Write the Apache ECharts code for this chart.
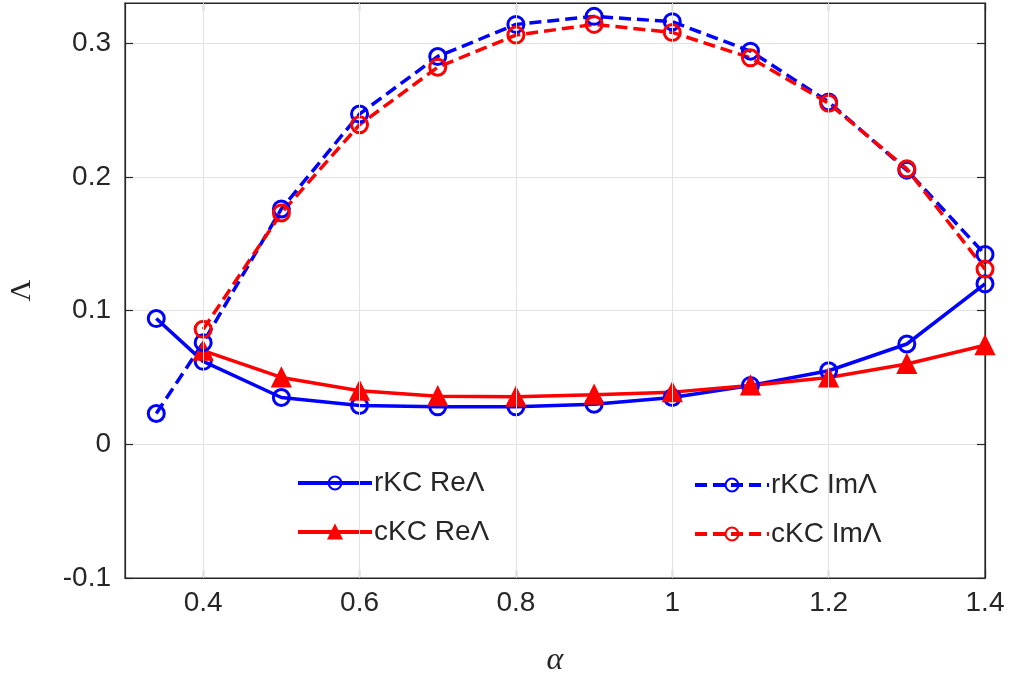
<!DOCTYPE html>
<html>
<head>
<meta charset="utf-8">
<script src="https://cdn.jsdelivr.net/npm/echarts@6/dist/echarts.min.js"></script>
<style>html,body{margin:0;padding:0;background:#fff}#c{width:1014px;height:687px}</style>
</head>
<body>
<div id="c"></div>
<script>
var alphaVals = [0.34, 0.4, 0.5, 0.6, 0.7, 0.8, 0.9, 1.0, 1.1, 1.2, 1.3, 1.4];
var rKCRe = [0.094, 0.062, 0.035, 0.029, 0.028, 0.028, 0.030, 0.035, 0.044, 0.055, 0.075, 0.120];
var cKCRe = [null, 0.070, 0.050, 0.040, 0.036, 0.0355, 0.037, 0.039, 0.044, 0.050, 0.060, 0.074];
var rKCIm = [0.023, 0.076, 0.176, 0.247, 0.290, 0.314, 0.320, 0.316, 0.294, 0.256, 0.205, 0.142];
var cKCIm = [null, 0.086, 0.173, 0.239, 0.282, 0.306, 0.314, 0.308, 0.289, 0.255, 0.206, 0.131];
var xTicks = [0.4, 0.6, 0.8, 1, 1.2, 1.4];
var yTicks = [-0.1, 0, 0.1, 0.2, 0.3];
var names = ['rKC ReΛ', 'cKC ReΛ', 'rKC ImΛ', 'cKC ImΛ'];

function pairs(ys) {
  var out = [];
  for (var i = 0; i < alphaVals.length; i++) if (ys[i] !== null) out.push([alphaVals[i], ys[i]]);
  return out;
}
var BLUE = '#0000ff', RED = '#ff0000', AX = '#262626', GRID = '#e2e2e2';
var font = '"Liberation Sans", Arial, Helvetica, sans-serif';

function mkSeries(name, ys, color, symbol, size, dashed) {
  var tri = symbol === 'triangle';
  return {
    name: name, type: 'line', data: pairs(ys),
    symbol: symbol, symbolSize: size, showSymbol: true,
    lineStyle: { color: color, width: 3.5, type: dashed ? [12, 6] : 'solid' },
    itemStyle: { color: tri ? color : 'rgba(255,255,255,0)', borderColor: color, borderWidth: tri ? 2 : 3 },
    color: color, z: 3, animation: false
  };
}
function fmt(v) { return String(+(+v).toFixed(1)); }

var chart = echarts.init(document.getElementById('c'), null, { renderer: 'canvas' });
var xAxisBase = {
  type: 'value', min: 0.3, max: 1.4, interval: 0.1,
  axisLine: { show: true, onZero: false, lineStyle: { color: AX, width: 1.2 } },
  axisTick: { show: true, inside: true, length: 8, lineStyle: { color: AX, width: 1.2 }, customValues: xTicks },
  axisLabel: { show: true, color: AX, fontSize: 28, fontFamily: font, margin: 11, customValues: xTicks, formatter: fmt },
  splitLine: { show: false }
};
var yAxisBase = {
  type: 'value', min: -0.1, max: 0.33, interval: 0.1,
  axisLine: { show: true, onZero: false, lineStyle: { color: AX, width: 1.2 } },
  axisTick: { show: true, inside: true, length: 8, lineStyle: { color: AX, width: 1.2 }, customValues: yTicks },
  axisLabel: { show: true, color: AX, fontSize: 28, fontFamily: font, margin: 14, customValues: yTicks, formatter: fmt },
  splitLine: { show: true, lineStyle: { color: GRID, width: 1 } }
};
var legendText = { fontSize: 28, fontFamily: font, color: AX, lineHeight: 32, padding: [0, 0, 0, -3] };

var option = {
  backgroundColor: '#fff',
  animation: false,
  grid: { left: 125, right: 29, top: 3, bottom: 109, show: true, borderColor: AX, borderWidth: 1.2,
    backgroundColor: 'rgba(0,0,0,0)', outerBoundsMode: 'none', containLabel: false },
  xAxis: [
    Object.assign({}, xAxisBase, {
      position: 'bottom',
      name: 'α', nameLocation: 'middle', nameGap: 67,
      nameTextStyle: { fontFamily: '"Liberation Serif", "DejaVu Serif", serif', fontStyle: 'italic', fontSize: 32, color: AX }
    }),
    Object.assign({}, xAxisBase, { position: 'top', axisLabel: { show: false } })
  ],
  yAxis: [
    Object.assign({}, yAxisBase, {
      position: 'left',
      name: 'Λ', nameLocation: 'middle', nameGap: 88, nameRotate: 90,
      nameTextStyle: { fontFamily: '"Liberation Serif", "DejaVu Serif", serif', fontSize: 30, color: AX }
    }),
    Object.assign({}, yAxisBase, { position: 'right', axisLabel: { show: false }, splitLine: { show: false } })
  ],
  legend: [
    {
      data: [names[0], names[1]], orient: 'vertical', left: 291, top: 462, itemGap: 17,
      itemWidth: 74, itemHeight: 16, lineStyle: { width: 4 },
      textStyle: legendText, selectedMode: false
    },
    {
      data: [names[2], names[3]], orient: 'vertical', left: 688, top: 464, itemGap: 17,
      itemWidth: 74, itemHeight: 16, lineStyle: { width: 4 },
      textStyle: legendText, selectedMode: false
    }
  ],
  series: [
    {
      name: 'xgrid', type: 'line', data: [], z: 1, silent: true,
      markLine: {
        silent: true, symbol: 'none', animation: false,
        label: { show: false },
        lineStyle: { color: GRID, width: 1, type: 'solid' },
        data: xTicks.slice(0, xTicks.length - 1).map(function (v) { return { xAxis: v }; })
      }
    },
    mkSeries(names[0], rKCRe, BLUE, 'circle', 16, false),
    mkSeries(names[1], cKCRe, RED, 'triangle', 18, false),
    mkSeries(names[2], rKCIm, BLUE, 'circle', 16, true),
    mkSeries(names[3], cKCIm, RED, 'circle', 16, true)
  ]
};
chart.setOption(option);
</script>
</body>
</html>
